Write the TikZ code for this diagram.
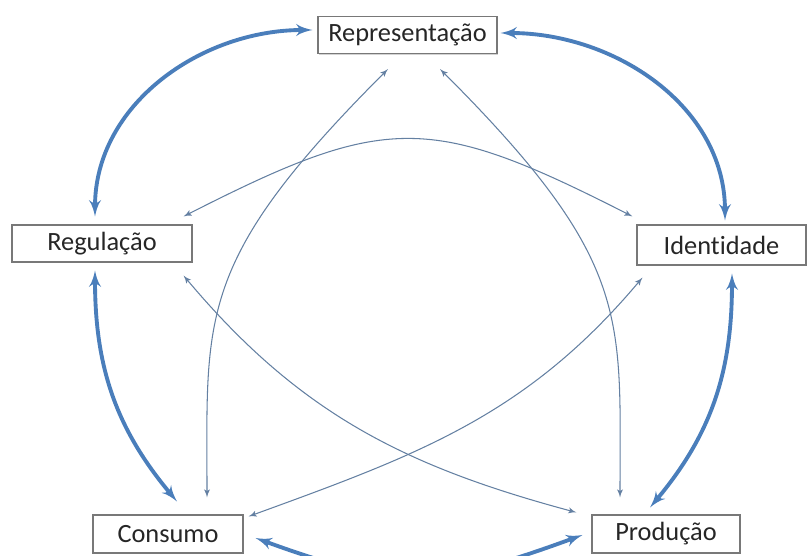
\documentclass[tikz,border=0pt]{standalone}
\usepackage{fontspec}
\setmainfont[Ligatures=NoCommon]{Carlito}
\usepackage{tikz}
\usetikzlibrary{arrows}
\usetikzlibrary{shadows}
\definecolor{thickblue}{RGB}{74,126,187}
\definecolor{thinblue}{RGB}{100,128,162}
\definecolor{boxgray}{RGB}{120,120,120}

\begin{document}
\begin{tikzpicture}
	\tikzset{box/.style = {shape=rectangle,draw=boxgray,fill=white,line width=0.6pt,minimum height=0.74cm,inner sep=0pt,font=\fontsize{15}{18}\selectfont,text=black!85,drop shadow={opacity=0.35,shadow xshift=0.6pt,shadow yshift=-0.8pt}}}
	\tikzset{bigedge/.style = {<->,> = latex',line width=2.2pt,color=thickblue}}
	\tikzset{smalledge/.style = {<->,> = latex',line width=0.6pt,color=thinblue}}
	\useasboundingbox (0,0) rectangle (16.14,11.12);
	% vertices
	\node[box,minimum width=3.58cm] (rep) at (8.15,10.42) {Representação};
	\node[box,minimum width=3.6cm] (reg) at (2.04,6.25) {Regulação};
	\node[box,minimum width=3.38cm,minimum height=0.8cm] (id) at (14.43,6.22) {Identidade};
	\node[box,minimum width=3.0cm,minimum height=0.76cm] (cons) at (3.36,0.44) {Consumo};
	\node[box,minimum width=2.96cm,minimum height=0.76cm] (prod) at (13.32,0.44) {Produção};
	% outer edges
	\draw[bigedge] ([shift={(-0.1,0.1)}]rep.west) to[out=180,in=90] ([shift={(-0.14,0.16)}]reg.north);
	\draw[bigedge] ([shift={(0.06,0.04)}]rep.east) to[out=0,in=90] ([shift={(0.07,0.08)}]id.north);
	\draw[bigedge] ([shift={(-0.14,-0.16)}]reg.south) to[out=-90,in=130] ([shift={(0.18,0.26)}]cons.north);
	\draw[bigedge] ([shift={(0.21,-0.16)}]id.south) to[out=-90,in=50] ([shift={(-0.32,0.14)}]prod.north);
	\draw[bigedge] ([shift={(0.24,-0.08)}]cons.east) to[out=-20,in=200,looseness=1.2] ([shift={(-0.18,-0.02)}]prod.west);
	% inner edges
	\draw[smalledge] ([shift={(0.78,0.34)}]cons.north) to[out=90,in=225,in looseness=1.5] ([shift={(-0.39,-0.3)}]rep.south);
	\draw[smalledge] ([shift={(-0.92,0.34)}]prod.north) to[out=90,in=-45,in looseness=1.5] ([shift={(0.65,-0.3)}]rep.south);
	\draw[smalledge] ([shift={(-0.18,0.16)}]reg.north east) to[out=27,in=153,looseness=1.3] ([shift={(-0.08,0.16)}]id.north west);
	\draw[smalledge] ([shift={(-0.18,-0.26)}]reg.south east) to[out=-50,in=165] ([shift={(-0.3,0.04)}]prod.north west);
	\draw[smalledge] ([shift={(0.1,-0.04)}]cons.north east) to[out=20,in=230] ([shift={(0.12,-0.24)}]id.south west);
\end{tikzpicture}
\end{document}
